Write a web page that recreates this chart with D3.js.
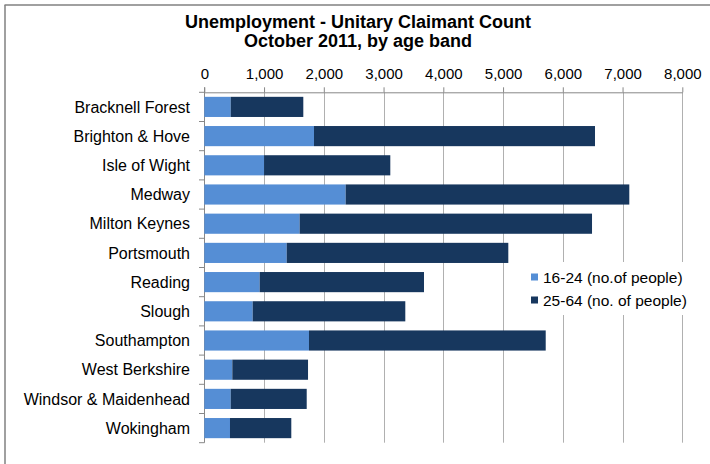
<!DOCTYPE html>
<html>
<head>
<meta charset="utf-8">
<script src="https://cdn.jsdelivr.net/npm/d3@7"></script>
<style>
  body { margin: 0; background: #fff; }
  text { font-family: "Liberation Sans", Arial, sans-serif; fill: #000; }
</style>
</head>
<body>
<div id="chart"></div>
<script>
// data
var areas = ["Bracknell Forest", "Brighton & Hove", "Isle of Wight", "Medway",
             "Milton Keynes", "Portsmouth", "Reading", "Slough", "Southampton",
             "West Berkshire", "Windsor & Maidenhead", "Wokingham"];
var young = [442, 1836, 1000, 2366, 1596, 1379, 927, 810, 1752, 469, 442, 430];
var older = [1215, 4703, 2113, 4747, 4893, 3709, 2750, 2554, 3962, 1267, 1272, 1026];
var seriesNames = ["16-24 (no.of people)", "25-64 (no. of people)"];
var seriesColors = ["#558ed5", "#17375e"];
var xTicks = [0, 1000, 2000, 3000, 4000, 5000, 6000, 7000, 8000];
var titleLines = ["Unemployment - Unitary Claimant Count", "October 2011, by age band"];

var w = 710;
var h = 464;
var plotTop = 92.3;
var plotBottom = 442.7;

var svg = d3.select("#chart")
            .append("svg")
            .attr("width", w)
            .attr("height", h);

// outer border (top + left only)
svg.append("line")
   .attr("x1", 4.5).attr("x2", w)
   .attr("y1", 5).attr("y2", 5)
   .attr("stroke", "#808080").attr("stroke-width", 1.5);
svg.append("line")
   .attr("x1", 5).attr("x2", 5)
   .attr("y1", 5).attr("y2", h)
   .attr("stroke", "#808080").attr("stroke-width", 1.5);

// title
svg.append("g")
   .selectAll("text")
   .data(titleLines)
   .enter()
   .append("text")
   .attr("x", 358)
   .attr("y", (d, i) => 28 + i * 19)
   .attr("text-anchor", "middle")
   .style("font-size", "18px")
   .style("font-weight", "bold")
   .text((d) => d);

// scales
var xScale = d3.scaleLinear()
               .domain([0, 8000])
               .range([204.3, 682.3]);

var yScale = d3.scaleBand()
               .domain(areas)
               .range([plotTop, plotBottom])
               .paddingInner(0.31)
               .paddingOuter(0.155);

// gridlines
svg.append("g")
   .selectAll("line")
   .data(xTicks.slice(1))
   .enter()
   .append("line")
   .attr("x1", (d) => Math.round(xScale(d)) + 0.5)
   .attr("x2", (d) => Math.round(xScale(d)) + 0.5)
   .attr("y1", plotTop)
   .attr("y2", plotBottom)
   .attr("stroke", "#b0b0b0")
   .attr("stroke-width", 1);

// x axis on top
var xAxis = d3.axisTop(xScale)
              .tickValues(xTicks)
              .tickSize(5)
              .tickPadding(8)
              .tickSizeOuter(0)
              .tickFormat(d3.format(","));

var gx = svg.append("g")
            .attr("transform", "translate(0," + plotTop + ")")
            .call(xAxis);
gx.select(".domain").attr("stroke", "#888");
gx.selectAll(".tick line").attr("stroke", "#888");
gx.selectAll(".tick text")
  .style("font-size", "15px")
  .style("font-family", "'Liberation Sans', Arial, sans-serif")
  .attr("fill", "#000");

// y axis line with ticks at category boundaries
var bounds = d3.range(areas.length + 1).map((i) => plotTop + i * (plotBottom - plotTop) / areas.length);

svg.append("line")
   .attr("x1", 204.5).attr("x2", 204.5)
   .attr("y1", plotTop - 5).attr("y2", plotBottom)
   .attr("stroke", "#888");

svg.append("g")
   .selectAll("line")
   .data(bounds)
   .enter()
   .append("line")
   .attr("x1", 199)
   .attr("x2", 204.5)
   .attr("y1", (d) => d)
   .attr("y2", (d) => d)
   .attr("stroke", "#888");

// category labels
svg.append("g")
   .selectAll("text")
   .data(areas)
   .enter()
   .append("text")
   .attr("x", 190)
   .attr("y", (d) => yScale(d) + yScale.bandwidth() / 2)
   .attr("dy", "0.36em")
   .attr("text-anchor", "end")
   .style("font-size", "16px")
   .text((d) => d);

// stacked bars
var rows = areas.map(function(a, i) {
  return {area: a, v0: young[i], v1: older[i]};
});
var stacked = d3.stack().keys(["v0", "v1"])(rows);

svg.append("g")
   .selectAll("g")
   .data(stacked)
   .enter()
   .append("g")
   .attr("fill", (d, i) => seriesColors[i])
   .selectAll("rect")
   .data((d) => d)
   .enter()
   .append("rect")
   .attr("x", (d) => xScale(d[0]))
   .attr("y", (d) => yScale(d.data.area))
   .attr("width", (d) => xScale(d[1]) - xScale(d[0]))
   .attr("height", yScale.bandwidth());

// legend
var legend = svg.append("g")
                .attr("transform", "translate(525,262)");

legend.append("rect")
      .attr("x", 0).attr("y", 0)
      .attr("width", 180).attr("height", 53)
      .attr("fill", "#fff");

var items = legend.selectAll(".item")
                  .data(seriesNames)
                  .enter()
                  .append("g")
                  .attr("class", "item")
                  .attr("transform", (d, i) => "translate(0," + (i * 23) + ")");

items.append("rect")
     .attr("x", 6)
     .attr("y", 11.5)
     .attr("width", 7)
     .attr("height", 7)
     .attr("fill", (d, i) => seriesColors[i]);

items.append("text")
     .attr("x", 18)
     .attr("y", 20.5)
     .style("font-size", "15.5px")
     .text((d) => d);
</script>
</body>
</html>
